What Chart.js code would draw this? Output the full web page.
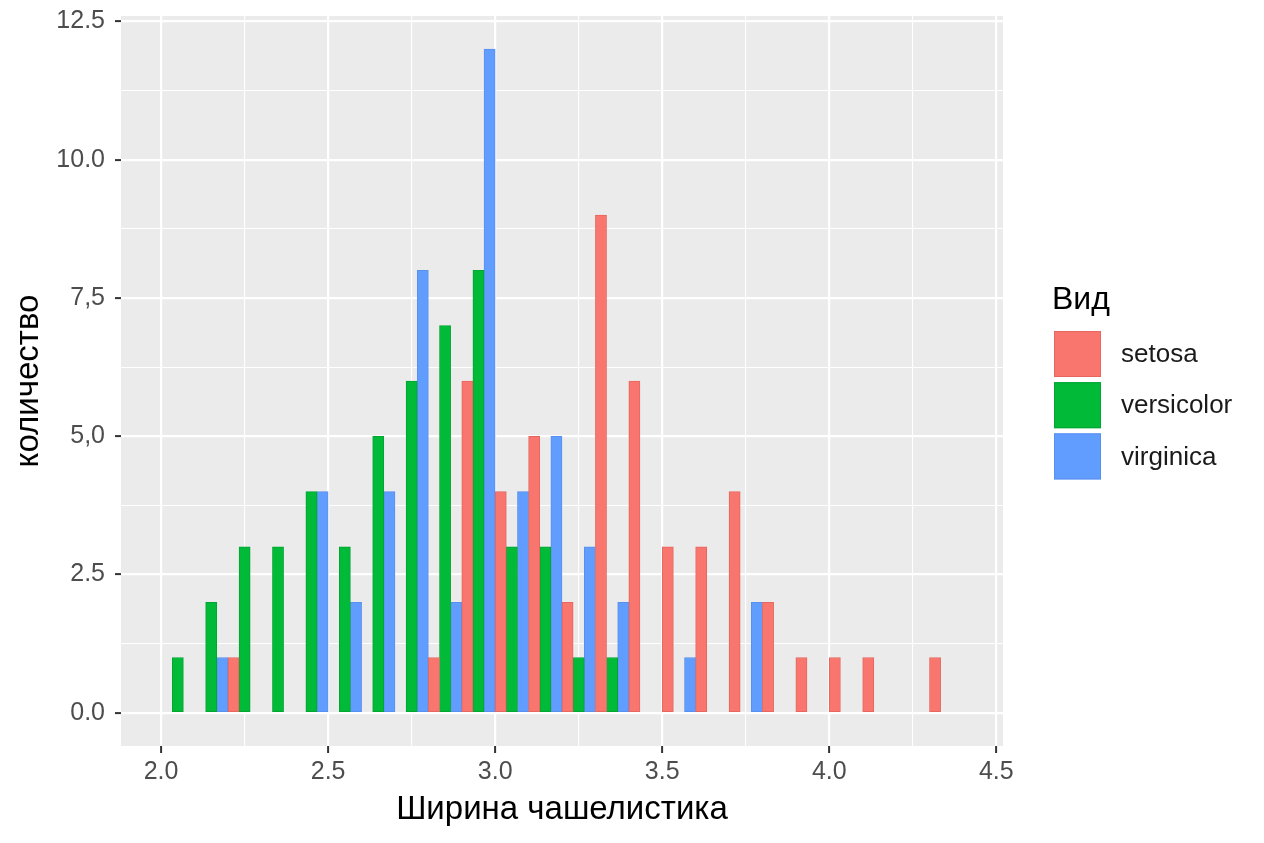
<!DOCTYPE html>
<html>
<head>
<meta charset="utf-8">
<script src="https://cdn.jsdelivr.net/npm/chart.js@4.4.1/dist/chart.umd.min.js"></script>
<style>
  body { margin: 0; background: #fff; }
  canvas { display: block; }
</style>
</head>
<body>
<canvas id="chart1" width="1264" height="843"></canvas>
<script>
// bin centres (binwidth 0.1) and counts per species
var setosaX     = [2.25, 2.85, 2.95, 3.05, 3.15, 3.25, 3.35, 3.45, 3.55, 3.65, 3.75, 3.85, 3.95, 4.05, 4.15, 4.35];
var setosaY     = [1,    1,    6,    4,    5,    2,    9,    6,    3,    3,    4,    2,    1,    1,    1,    1];
var versicolorX = [2.05, 2.15, 2.25, 2.35, 2.45, 2.55, 2.65, 2.75, 2.85, 2.95, 3.05, 3.15, 3.25, 3.35];
var versicolorY = [1,    2,    3,    3,    4,    3,    5,    6,    7,    8,    3,    3,    1,    1];
var virginicaX  = [2.15, 2.45, 2.55, 2.65, 2.75, 2.85, 2.95, 3.05, 3.15, 3.25, 3.35, 3.55, 3.75];
var virginicaY  = [1,    4,    2,    4,    8,    2,    12,   4,    5,    3,    2,    1,    2];

var speciesNames = ['setosa', 'versicolor', 'virginica'];
var xTicks = [2.0, 2.25, 2.5, 2.75, 3.0, 3.25, 3.5, 3.75, 4.0, 4.25, 4.5];
var xMajor = [2.0, 2.5, 3.0, 3.5, 4.0, 4.5];
var xTickLabels = ['2.0', '2.5', '3.0', '3.5', '4.0', '4.5'];
var yTicks = [0, 1.25, 2.5, 3.75, 5, 6.25, 7.5, 8.75, 10, 11.25, 12.5];
var yMajor = [0, 2.5, 5, 7.5, 10, 12.5];
var yTickLabels = ['0.0', '2.5', '5,0', '7,5', '10.0', '12.5'];

function toPoints(xs, ys) {
    var pts = [];
    for (var i = 0; i < xs.length; i++) {
        pts.push({ x: xs[i], y: ys[i] });
    }
    return pts;
}

function isMajor(list, v) {
    for (var i = 0; i < list.length; i++) {
        if (Math.abs(list[i] - v) < 1e-6) return i;
    }
    return -1;
}

var FONT = "'Liberation Sans', Arial, Helvetica, sans-serif";

// grey panel behind the grid
const panelBg = {
    id: 'panelBg',
    beforeDraw(chart) {
        const a = chart.chartArea;
        const ctx = chart.ctx;
        ctx.save();
        ctx.fillStyle = '#EBEBEB';
        ctx.fillRect(a.left, a.top, a.right - a.left, a.bottom - a.top);
        ctx.restore();
    }
};

// ggplot style legend on the right
const sideLegend = {
    id: 'sideLegend',
    afterDraw(chart) {
        const ctx = chart.ctx;
        ctx.save();
        ctx.fillStyle = '#000';
        ctx.font = '32px ' + FONT;
        ctx.textBaseline = 'middle';
        ctx.textAlign = 'left';
        ctx.fillText('Вид', 1052, 300);
        chart.data.datasets.forEach(function (ds, i) {
            var y = 331 + i * 51.2;
            ctx.fillStyle = ds.backgroundColor;
            ctx.fillRect(1054, y, 47, 46);
            ctx.strokeStyle = ds.borderColor;
            ctx.lineWidth = 1;
            ctx.strokeRect(1054.5, y + 0.5, 46, 45);
            ctx.fillStyle = '#1A1A1A';
            ctx.font = '26px ' + FONT;
            ctx.fillText(ds.label, 1121, y + 24);
        });
        ctx.restore();
    }
};

const chart1 = document.getElementById('chart1');
new Chart(chart1, {
    type: 'bar',
    data: {
        datasets: [{
            label: speciesNames[0],
            data: toPoints(setosaX, setosaY),
            backgroundColor: '#F8766D',
            borderColor: '#E5675F'
        }, {
            label: speciesNames[1],
            data: toPoints(versicolorX, versicolorY),
            backgroundColor: '#00BA38',
            borderColor: '#00A532'
        }, {
            label: speciesNames[2],
            data: toPoints(virginicaX, virginicaY),
            backgroundColor: '#619CFF',
            borderColor: '#5890EE'
        }]
    },
    options: {
        responsive: false,
        animation: false,
        devicePixelRatio: 1,
        layout: { padding: { left: 0, right: 261, top: 16, bottom: 0 } },
        datasets: {
            bar: { categoryPercentage: 1.0, barPercentage: 1.0, borderWidth: 1, borderSkipped: false }
        },
        plugins: {
            legend: { display: false },
            tooltip: { enabled: false }
        },
        scales: {
            x: {
                type: 'linear',
                offset: false,
                min: 1.88,
                max: 4.52,
                afterBuildTicks: function (scale) {
                    scale.ticks = xTicks.map(function (v) { return { value: v }; });
                },
                afterFit: function (scale) {
                    scale.height = 97;
                    scale.paddingLeft = 0;
                    scale.paddingRight = 0;
                },
                ticks: {
                    autoSkip: false,
                    maxRotation: 0,
                    padding: 4,
                    color: '#4D4D4D',
                    font: { family: FONT, size: 25 },
                    callback: function (v) {
                        var k = isMajor(xMajor, v);
                        return k >= 0 ? xTickLabels[k] : '';
                    }
                },
                grid: {
                    offset: false,
                    color: '#FFFFFF',
                    lineWidth: function (c) { return c.tick && isMajor(xMajor, c.tick.value) >= 0 ? 2.2 : 1.1; },
                    tickColor: function (c) { return c.tick && isMajor(xMajor, c.tick.value) >= 0 ? '#333333' : 'rgba(0,0,0,0)'; },
                    tickLength: 7,
                    tickWidth: 2
                },
                border: { display: false },
                title: {
                    display: true,
                    text: 'Ширина чашелистика',
                    color: '#000',
                    font: { family: FONT, size: 33 },
                    padding: { top: 0, bottom: 13 }
                }
            },
            y: {
                type: 'linear',
                min: -0.6,
                max: 12.6,
                afterBuildTicks: function (scale) {
                    scale.ticks = yTicks.map(function (v) { return { value: v }; });
                },
                afterFit: function (scale) {
                    scale.width = 121;
                    scale.paddingTop = 0;
                    scale.paddingBottom = 0;
                },
                ticks: {
                    autoSkip: false,
                    padding: 10,
                    color: '#4D4D4D',
                    font: { family: FONT, size: 25 },
                    callback: function (v) {
                        var k = isMajor(yMajor, v);
                        return k >= 0 ? yTickLabels[k] : '';
                    }
                },
                grid: {
                    color: '#FFFFFF',
                    lineWidth: function (c) { return c.tick && isMajor(yMajor, c.tick.value) >= 0 ? 2.2 : 1.1; },
                    tickColor: function (c) { return c.tick && isMajor(yMajor, c.tick.value) >= 0 ? '#333333' : 'rgba(0,0,0,0)'; },
                    tickLength: 6,
                    tickWidth: 2
                },
                border: { display: false },
                title: {
                    display: true,
                    text: 'количество',
                    color: '#000',
                    font: { family: FONT, size: 33 },
                    padding: { top: 9, bottom: 0 }
                }
            }
        }
    },
    plugins: [panelBg, sideLegend]
});
</script>
</body>
</html>
